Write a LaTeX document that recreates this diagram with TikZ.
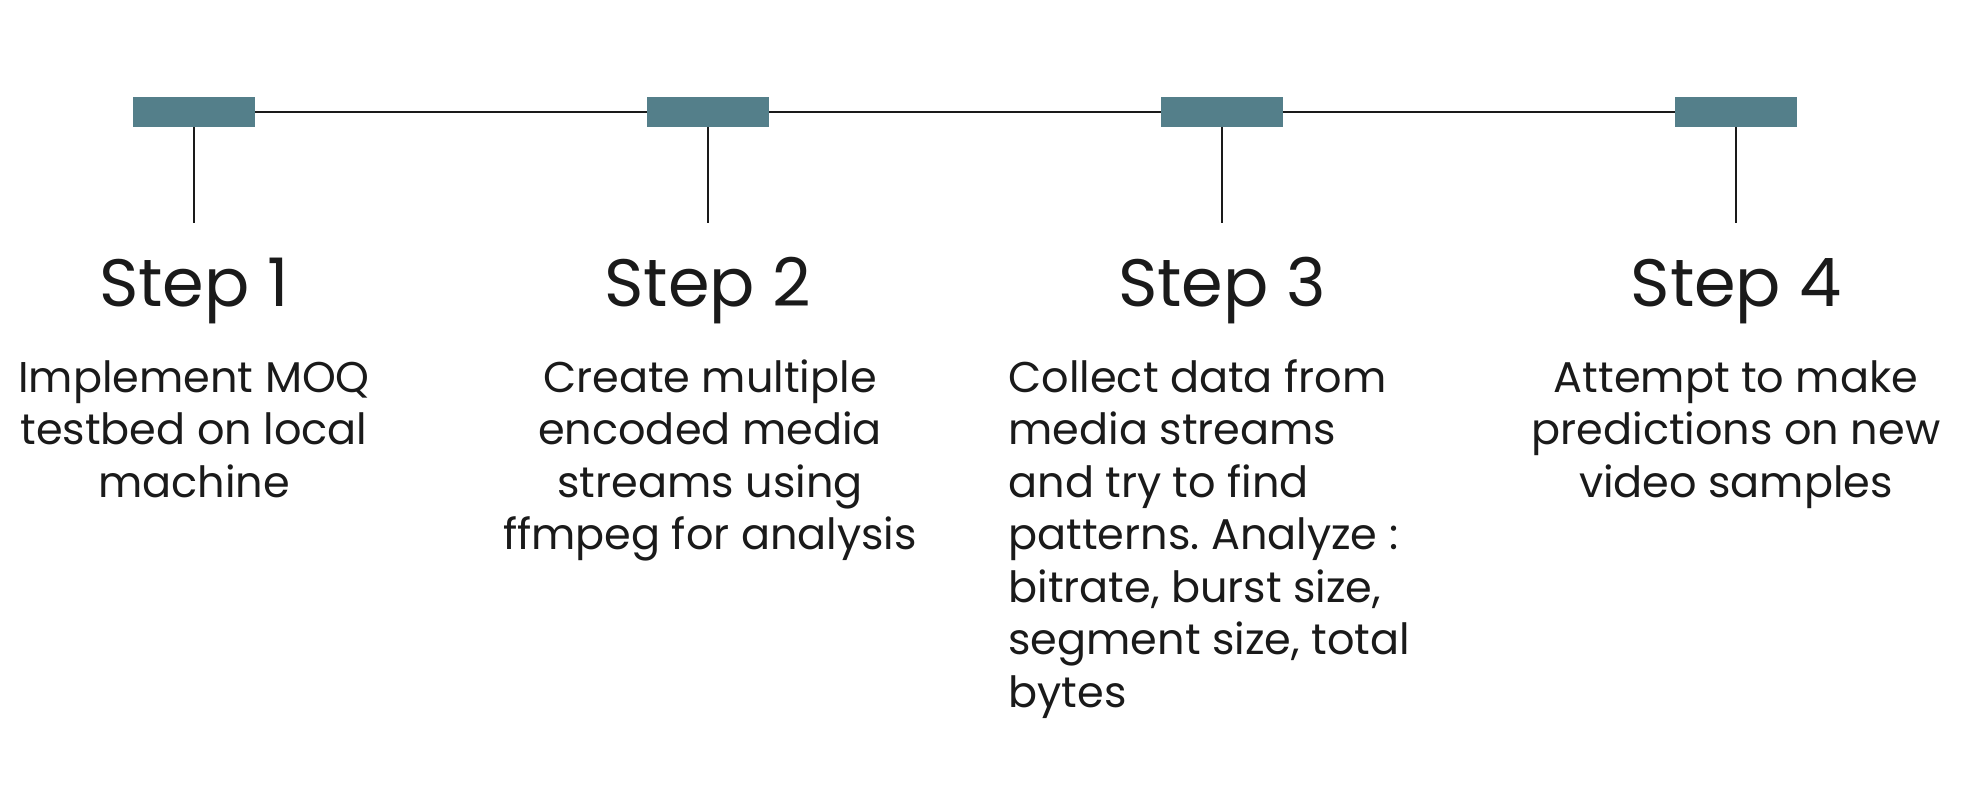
\documentclass[tikz,border=0pt]{standalone}
\usepackage{fontspec}
\setmainfont{Poppins}
\usepackage{tikz}
\usetikzlibrary{positioning}
\frenchspacing
\definecolor{boxteal}{RGB}{84,127,138}
\definecolor{ink}{RGB}{26,26,26}
\tikzstyle{milestone} = [rectangle, fill=boxteal, draw=none, minimum width=61pt, minimum height=15pt, inner sep=0pt]
\tikzstyle{timeline} = [line width=1.2pt, draw=ink]
\tikzstyle{tick} = [line width=1pt, draw=ink]
\tikzstyle{steptitle} = [anchor=base, inner sep=0pt, text=ink, font=\fontsize{33.5}{40}\selectfont]
\tikzstyle{stepdesc} = [anchor=base, inner sep=0pt, text=ink, align=center, font=\fontsize{21.5}{26.25}\selectfont]

\begin{document}
\begin{tikzpicture}[x=0.5pt, y=-0.5pt]
\useasboundingbox (0,0) rectangle (1974,808);
%----------------------------------------------------------------------------
% Placement of milestone boxes
\node (box1) [milestone] at (194,112) {};
\node (box2) [milestone] at (708,112) {};
\node (box3) [milestone] at (1222,112) {};
\node (box4) [milestone] at (1736,112) {};

\coordinate (tick1) at (194,223);
\coordinate (tick2) at (708,223);
\coordinate (tick3) at (1222,223);
\coordinate (tick4) at (1736,223);

%----------------------------------------------------------------------------
% Step titles and descriptions (base = last line)
\node (title1) [steptitle] at (194,306) {Step 1};
\node (title2) [steptitle] at (708,306) {Step 2};
\node (title3) [steptitle] at (1222,306) {Step 3};
\node (title4) [steptitle] at (1736,306) {Step 4};

\node (desc1) [stepdesc] at (194,497) {Implement MOQ\\testbed on local\\machine};
\node (desc2) [stepdesc] at (710,549.5) {Create multiple\\encoded media\\streams using\\ffmpeg for analysis};
\node (desc3) [stepdesc, anchor=base west, align=left] at (1008,707) {Collect data from\\media streams\\and try to find\\patterns. Analyze :\\bitrate, burst size,\\segment size, total\\bytes};
\node (desc4) [stepdesc] at (1736,497) {Attempt to make\\predictions on new\\video samples};

%----------------------------------------------------------------------------
% Draw lines
\draw [timeline] (box1) -- (box2);
\draw [timeline] (box2) -- (box3);
\draw [timeline] (box3) -- (box4);

\draw [tick] (box1) -- (tick1);
\draw [tick] (box2) -- (tick2);
\draw [tick] (box3) -- (tick3);
\draw [tick] (box4) -- (tick4);

\end{tikzpicture}
\end{document}
